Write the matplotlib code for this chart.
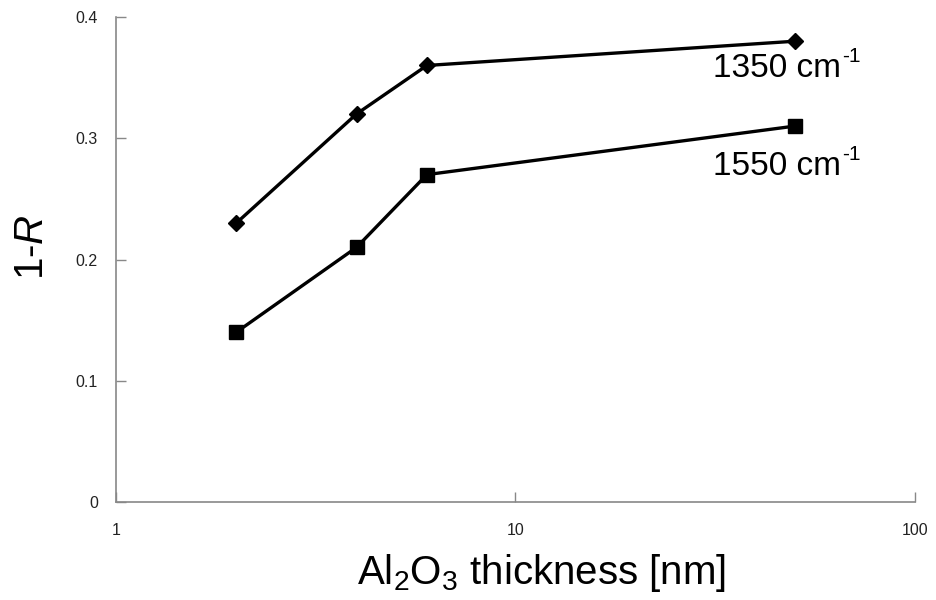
import numpy as np
import matplotlib.pyplot as plt

plt.rcParams['font.family'] = ['Liberation Sans', 'DejaVu Sans']
plt.rcParams['mathtext.fontset'] = 'custom'
plt.rcParams['mathtext.rm'] = 'Liberation Sans'
plt.rcParams['mathtext.it'] = 'Liberation Sans:italic'

thickness = [2, 4, 6, 50]
r1350 = [0.23, 0.32, 0.36, 0.38]
r1550 = [0.14, 0.21, 0.27, 0.31]

fig = plt.figure(figsize=(9.37, 6), dpi=100)
ax = fig.add_axes([0.1238, 0.1633, 0.8527, 0.8084])

ax.plot(thickness, r1350, color='black', lw=2.4, marker='D', ms=8)
ax.plot(thickness, r1550, color='black', lw=2.4, marker='s', ms=10)

ax.set_xscale('log')
ax.set_xlim(1, 100)
ax.set_ylim(0, 0.4)
ax.set_yticks([0, 0.1, 0.2, 0.3, 0.4])
ax.set_yticklabels(['0', '0.1', '0.2', '0.3', '0.4'])
ax.set_xticks([1, 10, 100])
ax.set_xticklabels(['1', '10', '100'])
ax.minorticks_off()
ax.tick_params(direction='in', length=7, width=1, color='#888888',
               labelsize=11.5, labelcolor='#222222')
ax.tick_params(axis='y', pad=13)
ax.tick_params(axis='x', pad=15)

for s in ['top', 'right']:
    ax.spines[s].set_visible(False)
for s in ['left', 'bottom']:
    ax.spines[s].set_color('#888888')
    ax.spines[s].set_linewidth(1.2)

ax.set_xlabel(r'Al$_2$O$_3$ thickness [nm]', fontsize=29, labelpad=10, x=0.5325)
ax.set_ylabel(r'1-$\mathit{R}$', fontsize=29, labelpad=18, y=0.526)

ax.text(31.2, 0.3505, '1350 cm', fontsize=24, va='baseline')
ax.text(31.2, 0.2697, '1550 cm', fontsize=24, va='baseline')
ax.annotate('-1', (31.2, 0.3505), xytext=(93, 11), textcoords='offset points',
            fontsize=15, va='baseline')
ax.annotate('-1', (31.2, 0.2697), xytext=(93, 11), textcoords='offset points',
            fontsize=15, va='baseline')

fig.savefig('out.png', dpi=100)
